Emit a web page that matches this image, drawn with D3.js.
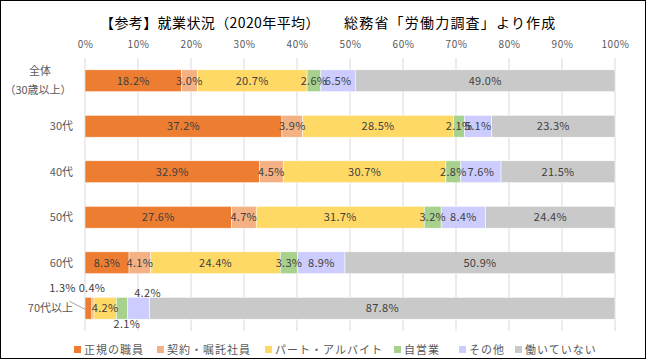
<!DOCTYPE html>
<html>
<head>
<meta charset="utf-8">
<script src="https://cdn.jsdelivr.net/npm/d3@7"></script>
<style>
  body { margin: 0; background: #fff; }
  text { font-family: "Noto Sans CJK JP", "Noto Sans", sans-serif; }
</style>
</head>
<body>
<script>
// data
var categories = ["全体", "30代", "40代", "50代", "60代", "70代以上"];
var seriesNames = ["正規の職員", "契約・嘱託社員", "パート・アルバイト", "自営業", "その他", "働いていない"];
var seiki    = [18.2, 37.2, 32.9, 27.6, 8.3, 1.3];
var keiyaku  = [3.0, 3.9, 4.5, 4.7, 4.1, 0.4];
var part     = [20.7, 28.5, 30.7, 31.7, 24.4, 4.2];
var jiei     = [2.6, 2.1, 2.8, 3.2, 3.3, 2.1];
var sonota   = [6.5, 5.1, 7.6, 8.4, 8.9, 4.2];
var notWork  = [49.0, 23.3, 21.5, 24.4, 50.9, 87.8];
var tickLabels = ["0%", "10%", "20%", "30%", "40%", "50%", "60%", "70%", "80%", "90%", "100%"];

var colors = ["#ED7D31", "#F4B183", "#FFD966", "#A9D18E", "#CCCCFF", "#C9C9C9"];
var seriesValues = [seiki, keiyaku, part, jiei, sonota, notWork];

var w = 650, h = 362;
var margin = {left: 85, right: 35, top: 58, bottom: 31};

var rows = categories.map(function(c, i) {
  var r = {cat: c};
  seriesNames.forEach(function(s, j) { r[s] = seriesValues[j][i]; });
  return r;
});

var stack = d3.stack().keys(seriesNames).offset(d3.stackOffsetExpand);
var layers = stack(rows);

var svg = d3.select("body").append("svg")
  .attr("width", w)
  .attr("height", h);

svg.append("rect")
  .attr("x", 0.5).attr("y", 0.5)
  .attr("width", 645).attr("height", 358)
  .attr("fill", "#fff")
  .attr("stroke", "#000")
  .attr("stroke-width", 1);

// title in two parts
svg.append("text")
  .attr("x", 100)
  .attr("y", 28)
  .attr("font-size", 14)
  .attr("letter-spacing", 0.4)
  .attr("fill", "#000")
  .text("【参考】就業状況（2020年平均）");
svg.append("text")
  .attr("x", 344)
  .attr("y", 28)
  .attr("font-size", 14)
  .attr("letter-spacing", 1.2)
  .attr("fill", "#000")
  .text("総務省「労働力調査」より作成");

var x = d3.scaleLinear()
  .domain([0, 1])
  .range([margin.left, w - margin.right]);

var y = d3.scaleBand()
  .domain(categories)
  .range([margin.top, h - margin.bottom])
  .paddingInner(0.52)
  .paddingOuter(0.26);

// grid lines
svg.append("g")
  .selectAll("line")
  .data(d3.range(0, 1.0001, 0.1))
  .enter()
  .append("line")
  .attr("x1", function(d) { return x(d); })
  .attr("x2", function(d) { return x(d); })
  .attr("y1", margin.top)
  .attr("y2", h - margin.bottom)
  .attr("stroke", "#D9D9D9")
  .attr("stroke-width", 1);

// top axis labels
var xAxis = d3.axisTop(x)
  .tickValues(d3.range(0, 1.0001, 0.1))
  .tickSize(0)
  .tickPadding(0)
  .tickFormat(function(d, i) { return tickLabels[i]; });

var gx = svg.append("g")
  .attr("transform", "translate(0,48)")
  .call(xAxis);
gx.select(".domain").remove();
gx.selectAll("text")
  .attr("font-size", 10)
  .attr("letter-spacing", 0.5)
  .attr("fill", "#595959")
  .style("font-family", "'Noto Sans CJK JP', sans-serif");

// bars
var groups = svg.append("g")
  .selectAll("g")
  .data(layers)
  .enter()
  .append("g")
  .attr("fill", function(d, i) { return colors[i]; });

groups.selectAll("rect")
  .data(function(d) { return d; })
  .enter()
  .append("rect")
  .attr("x", function(d) { return x(d[0]); })
  .attr("width", function(d) { return x(d[1]) - x(d[0]); })
  .attr("y", function(d) { return y(d.data.cat); })
  .attr("height", y.bandwidth())
  .attr("stroke", "#fff")
  .attr("stroke-width", 0.5);

// label offsets for the crowded last row
var lastOffsets = [[-26, -20], [-1, -20], [0, 0], [5, 16], [9, -15], [0, 0]];
var lastCat = categories[categories.length - 1];

layers.forEach(function(layer, j) {
  svg.append("g")
    .selectAll("text")
    .data(layer)
    .enter()
    .append("text")
    .attr("x", function(d) {
      var cx = (x(d[0]) + x(d[1])) / 2;
      if (d.data.cat === lastCat) cx += lastOffsets[j][0];
      return cx;
    })
    .attr("y", function(d) {
      var cy = y(d.data.cat) + y.bandwidth() / 2;
      if (d.data.cat === lastCat) cy += lastOffsets[j][1];
      return cy;
    })
    .attr("dy", "0.36em")
    .attr("text-anchor", "middle")
    .attr("font-size", 11)
    .attr("letter-spacing", 0.3)
    .attr("fill", "#404040")
    .text(function(d) { return d.data[seriesNames[j]].toFixed(1) + "%"; });
});

// leader line for the 1.3% label
var first = layers[0][categories.length - 1];
svg.append("line")
  .attr("x1", (x(first[0]) + x(first[1])) / 2 - 19)
  .attr("y1", y(lastCat) + y.bandwidth() / 2 - 7)
  .attr("x2", x(first[0]))
  .attr("y2", y(lastCat) + y.bandwidth() / 2 + 1)
  .attr("stroke", "#A6A6A6")
  .attr("stroke-width", 1);

// category labels
var catG = svg.append("g");
categories.forEach(function(c, i) {
  var cy = y(c) + y.bandwidth() / 2;
  if (i === 0) {
    catG.append("text")
      .attr("x", 40).attr("y", cy - 10).attr("dy", "0.36em")
      .attr("text-anchor", "middle")
      .attr("font-size", 11).attr("fill", "#595959")
      .text(c);
    catG.append("text")
      .attr("x", 38).attr("y", cy + 9).attr("dy", "0.36em")
      .attr("text-anchor", "middle")
      .attr("font-size", 11).attr("fill", "#595959")
      .text("（30歳以上）");
  } else {
    catG.append("text")
      .attr("x", 73).attr("y", cy).attr("dy", "0.36em")
      .attr("text-anchor", "end")
      .attr("font-size", 11).attr("fill", "#595959")
      .text(c);
  }
});

// legend
var legendX = [74, 157, 265, 394, 459, 515];
var legend = svg.append("g")
  .selectAll("g")
  .data(seriesNames)
  .enter()
  .append("g")
  .attr("transform", function(d, i) { return "translate(" + legendX[i] + ",350)"; });

legend.append("rect")
  .attr("x", 0).attr("y", -4)
  .attr("width", 7).attr("height", 7)
  .attr("fill", function(d, i) { return colors[i]; });

legend.append("text")
  .attr("x", 10)
  .attr("y", 0)
  .attr("dy", "0.36em")
  .attr("font-size", 11)
  .attr("letter-spacing", 1)
  .attr("fill", "#595959")
  .text(function(d) { return d; });
</script>
</body>
</html>
